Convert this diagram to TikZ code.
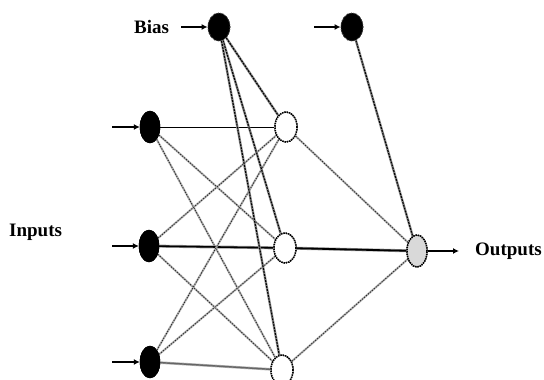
\documentclass[tikz,border=0pt]{standalone}
\usepackage{fontspec}
\setmainfont{Liberation Serif}
\usetikzlibrary{shapes.geometric,arrows.meta}
\begin{document}
\begin{tikzpicture}[x=1pt,y=-1pt,
  blacknode/.style={ellipse,draw=black,fill=black,inner sep=0pt,minimum width=20pt,minimum height=32pt},
  biasnode/.style={ellipse,draw=black!70,densely dotted,line width=0.8pt,fill=black,inner sep=0pt,minimum width=22pt,minimum height=28pt},
  hidnode/.style={ellipse,draw=black,dash pattern=on 1.5pt off 0.8pt,line width=1.5pt,fill=white,inner sep=0pt,minimum width=22pt,minimum height=30pt},
  outnode/.style={ellipse,draw=black,dash pattern=on 1.5pt off 0.8pt,line width=1.5pt,fill=black!15,inner sep=0pt,minimum width=20pt,minimum height=32pt},
  fuzzy/.style={preaction={draw=black!30,line width=2pt},draw=black!85,line width=0.8pt,dash pattern=on 1.3pt off 1.3pt},
  fuzzyd/.style={preaction={draw=black!45,line width=2.4pt},draw=black,line width=1.1pt,dash pattern=on 2pt off 1pt},
  inarrow/.style={draw=black,line width=1.8pt,-{Latex[length=6pt,width=6pt]}},
  lbl/.style={font=\fontsize{19}{22}\selectfont\bfseries,inner sep=0pt}
]
\useasboundingbox (0,0) rectangle (544,380);
\fill[white] (0,0) rectangle (544,380);

% nodes
\node[biasnode] (b1) at (219,27) {};
\node[biasnode] (b2) at (352,27) {};
\node[blacknode] (i1) at (150,127) {};
\node[blacknode] (i2) at (149,246) {};
\node[blacknode] (i3) at (150,362) {};
\node[hidnode] (h1) at (286,127) {};
\node[hidnode] (h2) at (285,248) {};
\node[hidnode] (h3) at (282,370) {};
\node[outnode] (o) at (417,251) {};

% labels
\node[lbl,anchor=west] (lbias) at (134,27) {Bias};
\node[lbl,anchor=west] (lin) at (9,232) {Inputs};
\node[lbl,anchor=west] (lout) at (475,251) {Outputs};

\coordinate (bs1) at (181,27);
\coordinate (bs2) at (314,27);
\coordinate (is1) at (112,127);
\coordinate (is2) at (112,246);
\coordinate (is3) at (112,362);
\coordinate (oe) at (459,251);

% input-hidden
\draw[black,line width=0.8pt] (i1) -- (h1);
\draw[fuzzy] (i1) -- (h2);
\draw[fuzzy] (i1) -- (h3);
\draw[fuzzy] (i2) -- (h1);
\draw[black,line width=1.6pt,preaction={draw=black!40,line width=3pt}] (i2) -- (h2);
\draw[fuzzy] (i2) -- (h3);
\draw[fuzzy] (i3) -- (h1);
\draw[fuzzy] (i3) -- (h2);
\draw[black!60,line width=1.4pt,preaction={draw=black!30,line width=2.6pt}] (i3) -- (h3);

% bias-hidden
\draw[fuzzyd] (b1) -- (h1);
\draw[fuzzyd] (b1) -- (h2);
\draw[fuzzyd] (b1) -- (h3);
\draw[fuzzyd] (b2) -- (o);

% hidden-output
\draw[fuzzy] (h1) -- (o);
\draw[black,line width=1.8pt,preaction={draw=black!40,line width=3pt}] (h2) -- (o);
\draw[fuzzy] (h3) -- (o);

% redraw nodes on top
\node[biasnode] at (b1) {};
\node[biasnode] at (b2) {};
\node[blacknode] at (i1) {};
\node[blacknode] at (i2) {};
\node[blacknode] at (i3) {};
\node[hidnode] at (h1) {};
\node[hidnode] at (h2) {};
\node[hidnode] at (h3) {};
\node[outnode] at (o) {};

% input arrows
\draw[inarrow] (is1) -- (i1);
\draw[inarrow] (is2) -- (i2);
\draw[inarrow] (is3) -- (i3);
\draw[inarrow] (bs1) -- (b1);
\draw[inarrow] (bs2) -- (b2);
\draw[inarrow] (o) -- (oe);
\end{tikzpicture}
\end{document}
